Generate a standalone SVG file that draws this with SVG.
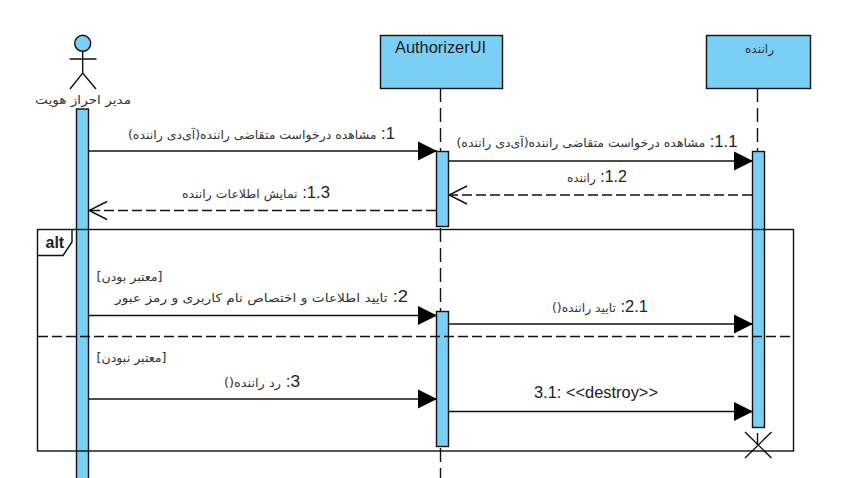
<svg xmlns="http://www.w3.org/2000/svg" width="844" height="478" viewBox="0 0 844 478">
<style>
text{font-family:"Liberation Sans","DejaVu Sans",sans-serif;font-size:16px;fill:#222}
.fa{direction:rtl;text-anchor:start}
.f{font-family:"DejaVu Sans","Liberation Sans",sans-serif;font-size:12px;fill:#333}
.box{fill:#7acff5;stroke:#111;stroke-width:1.4}
.life{fill:none;stroke:#111;stroke-width:1.4;stroke-dasharray:14 6}
.line{fill:none;stroke:#111;stroke-width:1.4}
.msg{fill:none;stroke:#111;stroke-width:1.4;marker-end:url(#solid)}
.ret{fill:none;stroke:#111;stroke-width:1.4;stroke-dasharray:10 4;marker-end:url(#open)}
</style>
<defs>
<marker id="solid" markerUnits="userSpaceOnUse" markerWidth="20" markerHeight="22" refX="19" refY="10" orient="auto"><path d="M0 0.5L19 10L0 19.5Z" fill="#000"/></marker>
<marker id="open" markerUnits="userSpaceOnUse" markerWidth="20" markerHeight="22" refX="19" refY="10" orient="auto"><path d="M1 1L19 10L1 19" fill="none" stroke="#111" stroke-width="1.4"/></marker>
</defs>
<rect width="844" height="478" fill="#fff"/>
<g id="actor-admin">
<circle cx="82.7" cy="43.3" r="8" class="box"/>
<path class="line" d="M82.7 51.3V73M69.5 59H96.5M70 89L82.7 73L96 89"/>
<text class="fa" x="131" y="104" textLength="96" lengthAdjust="spacingAndGlyphs"><tspan class="f">مدیر احراز هویت</tspan></text>
<rect class="box" x="76.5" y="109" width="12" height="375"/>
</g>
<g id="lifeline-authorizer">
<path class="life" d="M440.5 88V478"/>
<rect class="box" x="380.5" y="35.5" width="122" height="53"/>
<text x="395" y="53" textLength="91" lengthAdjust="spacingAndGlyphs">AuthorizerUI</text>
<rect class="box" x="436.5" y="151.5" width="12" height="75"/>
<rect class="box" x="436.5" y="311.5" width="12" height="135"/>
</g>
<g id="lifeline-driver">
<path class="life" d="M757.5 88V151"/>
<path class="line" d="M757.5 433V445"/>
<rect class="box" x="706.5" y="35.5" width="104" height="53"/>
<text class="fa" x="774" y="53" textLength="29" lengthAdjust="spacingAndGlyphs"><tspan class="f">راننده</tspan></text>
<rect class="box" x="752.5" y="151.5" width="12" height="276"/>
<path class="line" d="M745 432L771.5 458M771.5 432L745 458"/>
</g>
<g id="frame-alt">
<rect class="line" x="37.5" y="229.5" width="756" height="221.5"/>
<path class="line" d="M37.5 255.5H63L72 242V229.5"/>
<path class="line" d="M38 336.5H792" stroke-dasharray="10 4"/>
<text x="45.5" y="248" font-weight="700">alt</text>
<text class="fa" x="162.5" y="281" textLength="66" lengthAdjust="spacingAndGlyphs"><tspan class="f">[معتبر بودن]</tspan></text>
<text class="fa" x="166.5" y="362" textLength="70" lengthAdjust="spacingAndGlyphs"><tspan class="f">[معتبر نبودن]</tspan></text>
</g>
<g id="connectors">
<path class="msg" d="M89 151H437"/>
<path class="msg" d="M449 161H753"/>
<path class="ret" d="M752 195H449"/>
<path class="ret" d="M436 210.500H89"/>
<path class="msg" d="M89 315.500H437"/>
<path class="msg" d="M449 324H753"/>
<path class="msg" d="M89 399H437"/>
<path class="msg" d="M449 411.500H753"/>
<text class="fa" x="395" y="139" textLength="267" lengthAdjust="spacingAndGlyphs">1: <tspan class="f">مشاهده درخواست متقاضی راننده(آی‌دی راننده)</tspan></text>
<text class="fa" x="737.5" y="147" textLength="281" lengthAdjust="spacingAndGlyphs">1.1: <tspan class="f">مشاهده درخواست متقاضی راننده(آی‌دی راننده)</tspan></text>
<text class="fa" x="627" y="182" textLength="60" lengthAdjust="spacingAndGlyphs">1.2: <tspan class="f">راننده</tspan></text>
<text class="fa" x="330" y="197.500" textLength="148" lengthAdjust="spacingAndGlyphs">1.3: <tspan class="f">نمایش اطلاعات راننده</tspan></text>
<text class="fa" x="408" y="302" textLength="293" lengthAdjust="spacingAndGlyphs">2: <tspan class="f">تایید اطلاعات و اختصاص نام کاربری و رمز عبور</tspan></text>
<text class="fa" x="648" y="312" textLength="96" lengthAdjust="spacingAndGlyphs">2.1: <tspan class="f">تایید راننده()</tspan></text>
<text class="fa" x="300" y="387" textLength="76" lengthAdjust="spacingAndGlyphs">3: <tspan class="f">رد راننده()</tspan></text>
<text x="534" y="398" textLength="124" lengthAdjust="spacingAndGlyphs">3.1: &lt;&lt;destroy&gt;&gt;</text>
</g>
</svg>
